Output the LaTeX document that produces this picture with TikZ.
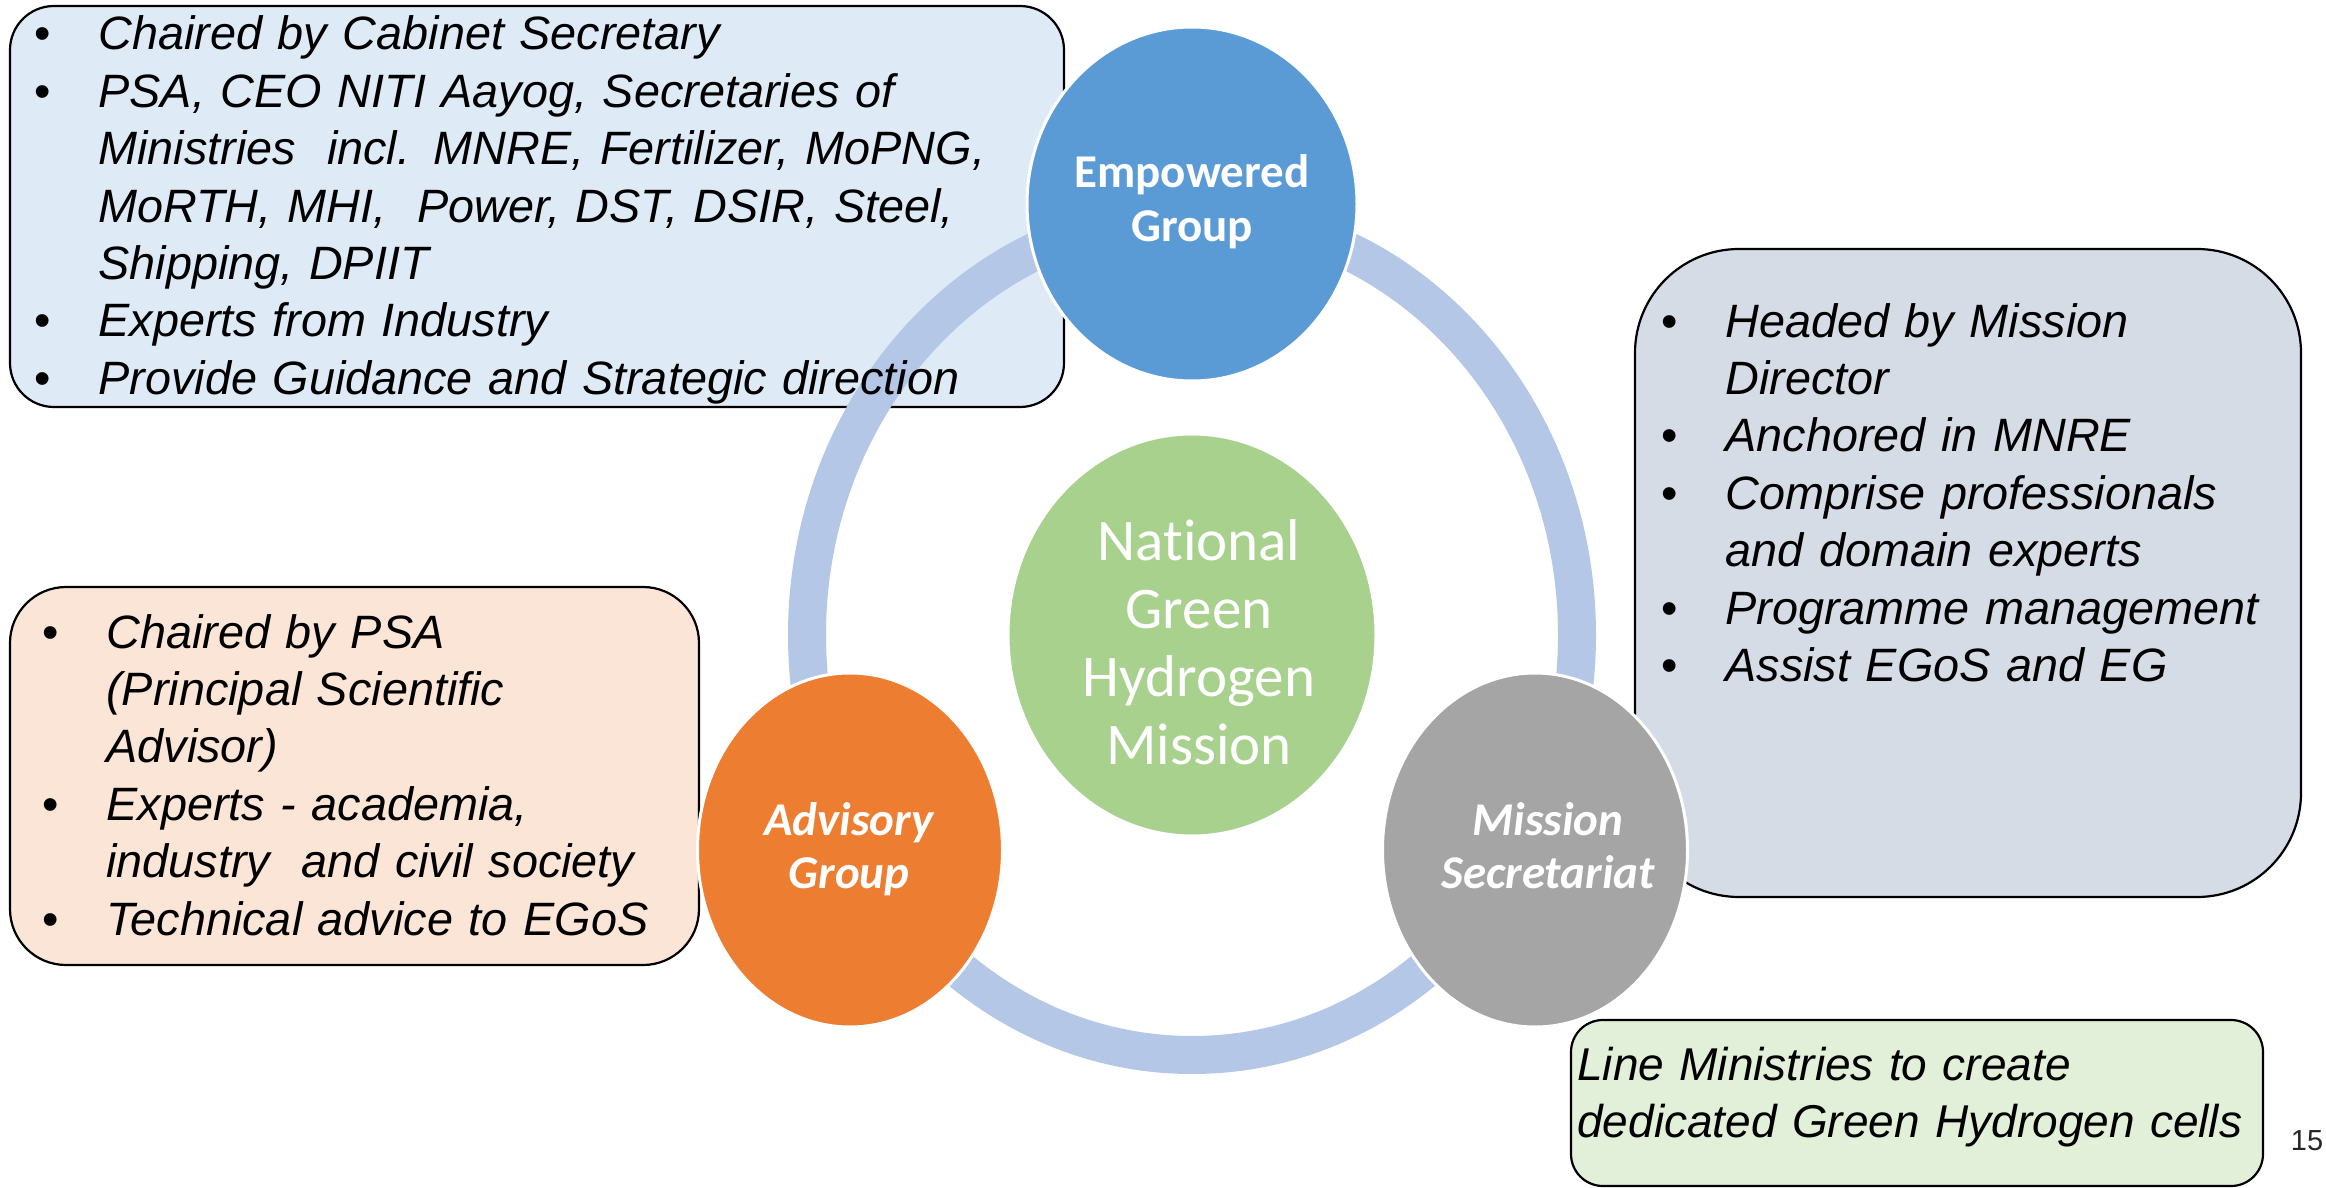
\documentclass[tikz,border=0pt]{standalone}
\usepackage{fontspec}
\setmainfont{Liberation Sans}
\newfontfamily\calfont[Ligatures=NoCommon]{Carlito}
\usetikzlibrary{shapes.geometric}

\definecolor{empblue}{HTML}{5B9BD5}
\definecolor{advorange}{HTML}{ED7D31}
\definecolor{misgray}{HTML}{A5A5A5}
\definecolor{ngreen}{HTML}{A9D18E}
\definecolor{ringblue}{HTML}{B4C7E7}
\definecolor{tlfill}{HTML}{DEEBF7}
\definecolor{rtfill}{HTML}{D6DCE5}
\definecolor{ltfill}{HTML}{FBE5D6}
\definecolor{gbfill}{HTML}{E2F0D9}

% bullet column and hanging indent for the side lists
\newcommand{\bulmark}{\makebox[32pt][l]{\upshape\textbullet}}
\newcommand{\hangpad}{\hspace*{32pt}}

\tikzset{
  infobox/.style={draw=black, line width=1.1pt, rounded corners=#1,
    inner sep=0pt, outer sep=0pt, anchor=north west},
  bodytext/.style={anchor=base west, inner sep=0pt, align=left, text width=#1,
    font=\itshape\fontsize{23.4pt}{28.7pt}\selectfont},
  disc/.style={ellipse, inner sep=0pt, draw=white, line width=1.5pt},
  disclabel/.style={anchor=base, inner sep=0pt, align=center, text width=#1,
    text=white},
  uprightlabel/.style={font=\calfont\bfseries\fontsize{23.5pt}{26.75pt}\selectfont},
  slantlabel/.style={font=\calfont\bfseries\itshape\fontsize{23.5pt}{26.75pt}\selectfont},
}

\begin{document}
\begin{tikzpicture}[x=0.5pt, y=-0.5pt]
  % canvas
  \fill[white] (0,0) rectangle (2326,1188);
  \useasboundingbox (0,0) rectangle (2326,1188);

  % side boxes
  \node[infobox=22pt, fill=tlfill, minimum width=527pt, minimum height=200.5pt] (tlbox) at (10,6) {};
  \node[infobox=52pt, fill=rtfill, minimum width=333pt, minimum height=324pt] (rtbox) at (1635,249) {};
  \node[infobox=28pt, fill=ltfill, minimum width=344.5pt, minimum height=189pt] (ltbox) at (10,587) {};
  \node[infobox=16pt, fill=gbfill, minimum width=346pt, minimum height=83pt] (gbbox) at (1571,1020) {};

  % ring joining the three groups
  \node[ellipse, draw=ringblue, line width=19pt, minimum width=385pt, minimum height=420pt,
        inner sep=0pt] (ring) at (1192,635) {};

  % group discs
  \node[disc, fill=ngreen, minimum width=184pt, minimum height=201pt] (mission) at (1192,635) {};
  \node[disc, fill=empblue, minimum width=165pt, minimum height=177pt] (eg) at (1192,204) {};
  \node[disc, fill=advorange, minimum width=152.5pt, minimum height=177pt] (ag) at (850,850) {};
  \node[disc, fill=misgray, minimum width=152.5pt, minimum height=177pt] (ms) at (1535,850) {};

  % disc labels
  \node[disclabel=200pt, font=\calfont\fontsize{29.5pt}{34pt}\selectfont] (missionlbl) at (1199,560)
    {National\\Green\\Hydrogen\\Mission};
  \node[disclabel=160pt, uprightlabel] (eglbl) at (1192,188) {Empowered\\Group};
  \node[disclabel=160pt, slantlabel] (aglbl) at (849,835) {Advisory\\Group};
  \node[disclabel=160pt, slantlabel] (mslbl) at (1548,835) {Mission\\Secretariat};

  % box texts
  \node[bodytext=520pt] (tltext) at (34,50) {%
    \bulmark Chaired by Cabinet Secretary\\
    \bulmark PSA, CEO NITI Aayog, Secretaries of\\
    \hangpad Ministries\ \ incl. MNRE, Fertilizer, MoPNG,\\
    \hangpad MoRTH, MHI,\ \ Power, DST, DSIR, Steel,\\
    \hangpad Shipping, DPIIT\\
    \bulmark Experts from Industry\\
    \bulmark Provide Guidance and Strategic direction};

  \node[bodytext=330pt] (rttext) at (1661,337) {%
    \bulmark Headed by Mission\\
    \hangpad Director\\
    \bulmark Anchored in MNRE\\
    \bulmark Comprise professionals\\
    \hangpad and domain experts\\
    \bulmark Programme management\\
    \bulmark Assist EGoS and EG};

  \node[bodytext=340pt] (lttext) at (42,648) {%
    \bulmark Chaired by PSA\\
    \hangpad (Principal Scientific\\
    \hangpad Advisor)\\
    \bulmark Experts - academia,\\
    \hangpad industry\ \ and civil society\\
    \bulmark Technical advice to EGoS};

  \node[bodytext=345pt, font=\itshape\fontsize{23pt}{28.5pt}\selectfont] (gbtext) at (1577,1080) {%
    Line Ministries to create\\
    dedicated Green Hydrogen cells};

  % slide number
  \node[anchor=base, inner sep=0pt, text=black!85, font=\fontsize{14.5pt}{16pt}\selectfont]
    (pageno) at (2307,1150) {15};
\end{tikzpicture}
\end{document}
